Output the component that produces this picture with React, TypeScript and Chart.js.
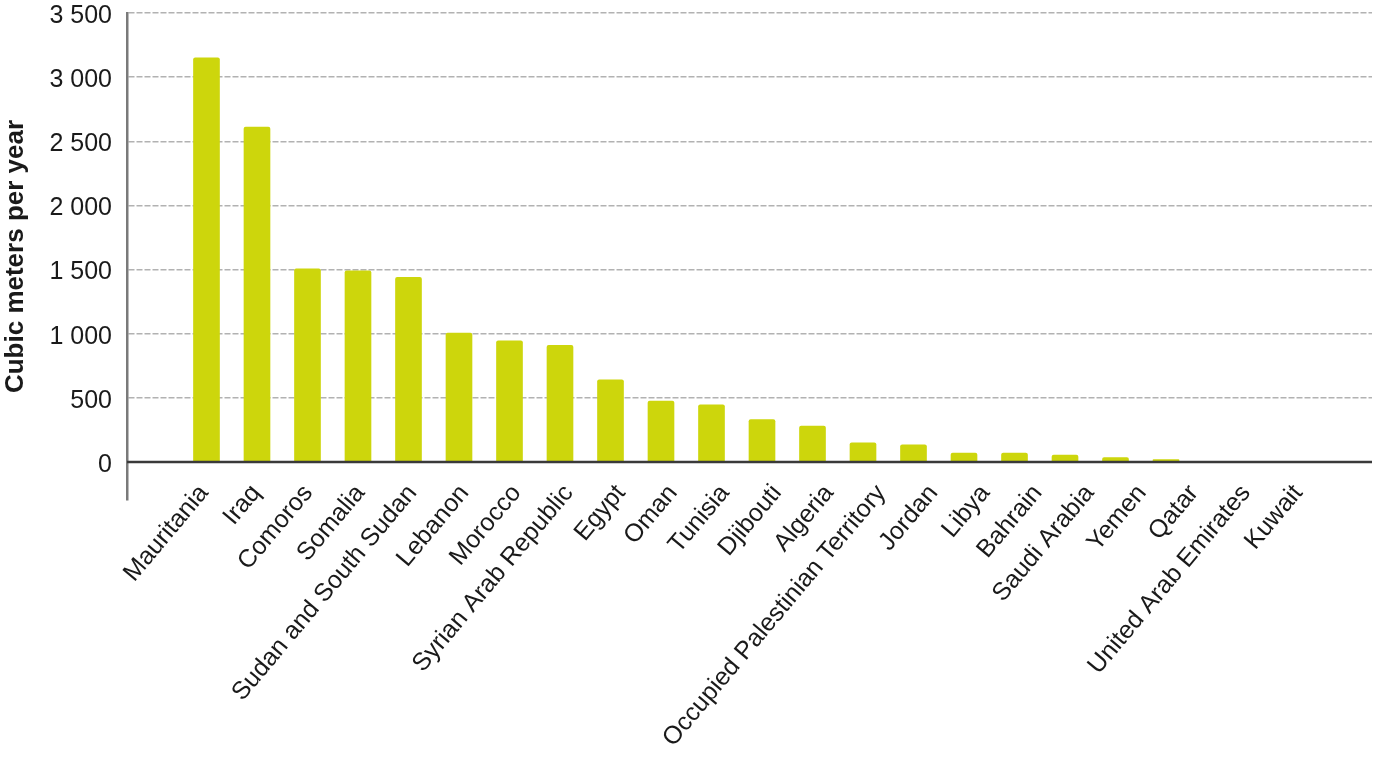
import React, { useEffect, useRef } from "react";
import { Chart, registerables, LinearScale } from "chart.js";

Chart.register(...registerables);

// Linear scale whose tick labels are not clipped to the axis box
class NoClipLinearScale extends (LinearScale as any) {
  static id = "noClipLinear";
  static defaults = (LinearScale as any).defaults;
  _computeLabelArea() {
    return undefined;
  }
}
Chart.register(NoClipLinearScale as any);

const categories = [
  "Mauritania",
  "Iraq",
  "Comoros",
  "Somalia",
  "Sudan and South Sudan",
  "Lebanon",
  "Morocco",
  "Syrian Arab Republic",
  "Egypt",
  "Oman",
  "Tunisia",
  "Djibouti",
  "Algeria",
  "Occupied Palestinian Territory",
  "Jordan",
  "Libya",
  "Bahrain",
  "Saudi Arabia",
  "Yemen",
  "Qatar",
  "United Arab Emirates",
  "Kuwait",
];

const values = [
  3150, 2610, 1505, 1490, 1440, 1005, 945, 910, 640, 475, 445, 330, 280, 150,
  135, 70, 70, 55, 35, 20, 0, 0,
];

const yTicks = [0, 500, 1000, 1500, 2000, 2500, 3000, 3500];

const FONT = "'Liberation Sans', Arial, Helvetica, sans-serif";
const BAR_COLOR = "#cdd60c";

const formatThousands = (v: number) =>
  String(v).replace(/\B(?=(\d{3})+(?!\d))/g, " ");

const zeroLinePlugin = {
  id: "zeroLine",
  afterDatasetsDraw(chart: any) {
    const { ctx, chartArea } = chart;
    const y = chart.scales.y.getPixelForValue(0);
    ctx.save();
    ctx.strokeStyle = "#3a3a3a";
    ctx.lineWidth = 2.5;
    ctx.beginPath();
    ctx.moveTo(chartArea.left, y);
    ctx.lineTo(chartArea.right, y);
    ctx.stroke();
    ctx.restore();
  },
};

export default function App() {
  const canvasRef = useRef<HTMLCanvasElement | null>(null);

  useEffect(() => {
    if (!canvasRef.current) return;
    const chart = new Chart(canvasRef.current, {
      type: "bar",
      data: {
        datasets: [
          {
            data: values.map((v, i) => ({ x: i, y: v })),
            backgroundColor: BAR_COLOR,
            borderWidth: 0,
            borderRadius: 2,
            barThickness: 26,
            xAxisID: "x",
            yAxisID: "y",
          },
        ],
      },
      options: {
        animation: false,
        responsive: true,
        maintainAspectRatio: false,
        layout: { padding: { top: 13, right: 3, left: 0, bottom: 0 } },
        plugins: {
          legend: { display: false },
          tooltip: { enabled: false },
        },
        scales: {
          x: {
            type: "linear",
            display: false,
            offset: false,
            min: -1.574,
            max: 23.079,
          },
          xl: {
            type: "noClipLinear",
            position: "bottom",
            offset: false,
            min: -1.478,
            max: 22.418,
            afterBuildTicks: (scale: any) => {
              scale.ticks = categories.map((_, i) => ({ value: i }));
            },
            afterFit: (scale: any) => {
              scale.height = 259;
              scale.paddingLeft = 0;
              scale.paddingRight = 0;
            },
            ticks: {
              autoSkip: false,
              maxRotation: 50,
              minRotation: 50,
              padding: -29,
              color: "#1a1a1a",
              font: { family: FONT, size: 25 },
              callback: (v: any) => categories[Math.round(Number(v))] ?? "",
            },
            grid: { display: false },
            border: { display: false },
          },
          y: {
            type: "linear",
            min: -296,
            max: 3500,
            afterBuildTicks: (scale: any) => {
              scale.ticks = yTicks.map((v) => ({ value: v }));
            },
            afterFit: (scale: any) => {
              scale.width = 127;
              scale.paddingTop = 0;
              scale.paddingBottom = 0;
            },
            ticks: {
              padding: 15,
              labelOffset: 3,
              color: "#1a1a1a",
              font: { family: FONT, size: 25, lineHeight: 1 },
              callback: (v: any) => formatThousands(Number(v)),
            },
            title: {
              display: true,
              text: "Cubic meters per year",
              color: "#1a1a1a",
              font: { family: FONT, size: 26, weight: "bold" },
              padding: { top: 0, bottom: 0 },
            },
            grid: {
              drawTicks: false,
              color: (ctx: any) =>
                ctx.tick && ctx.tick.value === 0 ? "rgba(0,0,0,0)" : "#b2b2b2",
              lineWidth: 1.5,
            },
            border: {
              display: true,
              color: "#7a7a7a",
              width: 2.5,
              dash: (ctx: any) =>
                ctx.tick && ctx.tick.value !== 0 ? [6, 2] : [],
            },
          },
        },
      },
      plugins: [zeroLinePlugin],
    } as any);
    return () => chart.destroy();
  }, []);

  return (
    <div
      style={{
        position: "absolute",
        left: 0,
        top: 0,
        width: 1375,
        height: 759,
      }}
    >
      <canvas ref={canvasRef} />
    </div>
  );
}
